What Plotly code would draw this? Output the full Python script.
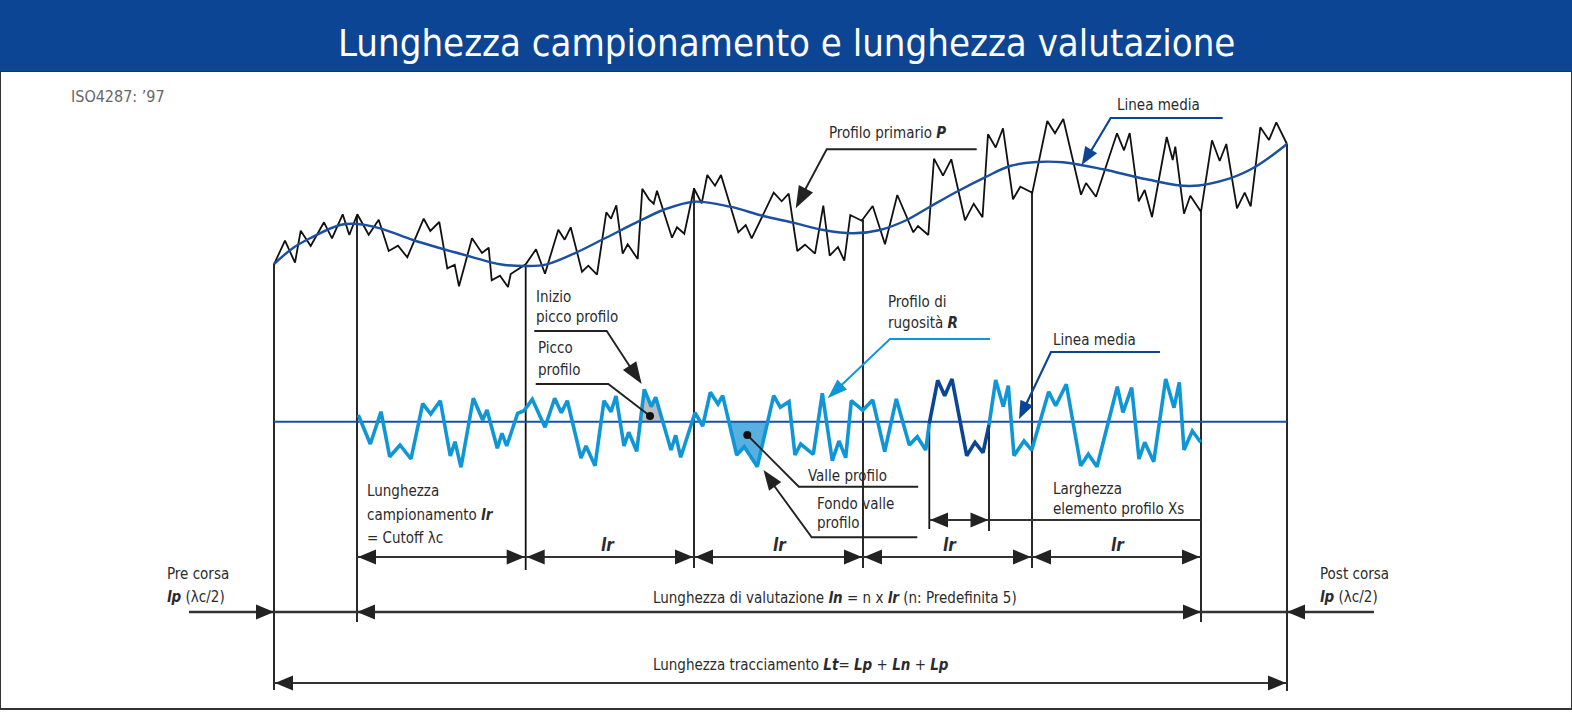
import math
import plotly.graph_objects as go

# profile readings, in picture units (x along the trace, y downwards)
primary_x = [274, 285, 295, 300.7, 310.7, 324, 332, 342.7, 349.3, 357.3, 368.7, 378.7, 388.7, 398, 407.3, 423.7, 430.3, 439.3,
             447.3, 454.7, 459, 472, 482, 488.7, 491.7, 500, 508, 510.7, 525.7, 536, 545, 558.3, 564.7, 570.7, 582, 588.3, 597,
             606.3, 611, 616.3, 622.7, 627.7, 637.7, 642.3, 649, 653.7, 657, 672, 677, 684.3, 694, 701.7, 707.3, 715, 721,
             738.3, 745.7, 751.7, 773.7, 781.7, 788.7, 797.3, 805, 815, 823.3, 829.7, 838, 844.3, 850.3, 861.7, 872.7, 885,
             897.3, 913.3, 918, 928.3, 934, 943, 951.3, 965, 973.7, 982.5, 988, 995.7, 1003, 1013, 1020.3, 1032.3, 1047.3,
             1055, 1063.3, 1081, 1086, 1096, 1117, 1124, 1129.7, 1138.7, 1144.7, 1152, 1166.7, 1172.7, 1175.3, 1184, 1190.3,
             1201, 1212, 1219.7, 1226.3, 1237, 1244.7, 1250.7, 1260.3, 1269, 1276.3, 1287]
primary_y = [264.3, 240.7, 262.7, 230.7, 246, 222.3, 238.3, 214.3, 235, 214.3, 234.7, 219.7, 251, 245.7, 257.3, 218.7, 231, 222,
             268.3, 264.7, 286.3, 238.3, 253, 247.7, 280.3, 275.7, 287, 274, 264.3, 249.3, 273.7, 229.7, 239.7, 227.3, 271.7,
             265.7, 274.7, 212.3, 218.7, 205.3, 253.7, 244.3, 259, 188.7, 199.3, 203.7, 190.7, 237.7, 227.3, 233.7, 188.5,
             203.3, 175, 185.7, 175, 232.3, 225, 238.3, 192.7, 201.3, 193.7, 251, 244.7, 253.7, 205.7, 255.7, 247, 260.7, 215,
             220.7, 206, 244.3, 195, 232.3, 226, 235, 158.7, 175.7, 159.3, 220.3, 203.7, 217.2, 134.3, 147.5, 128.3, 199.3,
             186.7, 192.7, 121, 133.3, 119, 194.7, 183, 196.7, 133.3, 150.3, 133, 201.3, 190, 217, 137, 160, 146.7, 213.7,
             195.7, 211.7, 140.3, 161, 144, 208.3, 192.7, 206.3, 127.3, 140, 122.3, 144]

mean_x = [274, 293, 310, 340, 357.3, 380, 413, 443, 473, 500, 526.7, 546.7, 576.7, 603, 640, 663.3, 694, 730, 763.3, 793.3,
          823.3, 853.3, 880, 906.7, 930, 956.7, 985, 1010, 1036.7, 1063, 1103, 1146.7, 1190, 1230, 1256.7, 1287]
mean_y = [264, 248, 238.3, 225, 224, 228.3, 240, 249, 257.3, 264.3, 266, 264.3, 252.3, 239.3, 220.7, 210, 201.7, 206.7, 216,
          222.7, 230, 233.3, 230, 220, 206.7, 191.7, 177.3, 166, 162, 162.3, 169.3, 179.3, 186, 178.3, 166, 144]

rough_a_x = [358.3, 370.3, 381, 389.7, 400, 411, 422.7, 430.7, 440.3, 450.3, 455, 461, 473.3, 482.7, 487, 497.3, 502, 506.7,
             517.7, 524, 532.3, 545, 554.7, 561.3, 567.3, 581, 586, 595, 604, 611, 616, 624, 628.7, 636.7, 644.3, 651.3,
             655.7, 671, 675.7, 680.7, 695, 702.7, 710.3, 718, 722.7, 736.7, 744.3, 757.3, 773.7, 780.3, 789, 795, 800.7,
             813.3, 822.3, 832.3, 839, 845.7, 851.3, 862.7, 872.7, 884.7, 896.3, 909.3, 917.3, 925.7, 929.3]
rough_a_y = [415, 444, 411.7, 456.7, 445, 459, 403.7, 414, 400.7, 456, 441.7, 467.3, 398.3, 420, 410, 448.3, 433.3, 446, 413.3,
             410.7, 399.3, 427.3, 398.3, 412.7, 400.7, 458, 446, 465.7, 400.7, 411.7, 396, 446, 432.3, 451.3, 389.3, 406.7,
             397.3, 450, 435.3, 457.3, 412.7, 426, 392.3, 404, 395.7, 455, 446.7, 466.7, 395.7, 407.3, 401.7, 455, 444, 454.3,
             393.3, 460.7, 441, 457.7, 400.7, 410.3, 400, 451.7, 399, 445, 436.7, 450, 423.3]
rough_dark_x = [929.3, 937.7, 944.7, 952, 966.7, 975, 983, 989]
rough_dark_y = [423.3, 380.3, 395.7, 379, 455.7, 442.3, 452.7, 425]
rough_b_x = [989, 995.7, 1003.3, 1008.3, 1014, 1024, 1031.7, 1048.7, 1055.7, 1066.3, 1080.7, 1088.3, 1097, 1117.3, 1123,
             1131.7, 1139, 1144.7, 1153.7, 1165.7, 1174, 1179.3, 1184, 1192.3, 1200.7]
rough_b_y = [425, 380, 406.7, 385.7, 455.7, 441, 450, 391.7, 405.7, 384.3, 465.7, 454.3, 466.7, 386.7, 412.3, 387.7, 459,
             442.3, 461.7, 379, 407.7, 382.3, 450, 431, 442.3]

peak_x = [640, 644.3, 651.3, 655.7, 663]
peak_y = [421.8, 389.3, 406.7, 397.3, 421.8]
valley_x = [729, 736.7, 744.3, 757.3, 766]
valley_y = [421.8, 455, 446.7, 466.7, 421.8]

# cutoff boundaries and where their ticks stop
tick_x = [274, 357, 525.7, 694, 863, 1032, 1201, 1287, 929.3, 989]
tick_top = [264, 215, 265, 188, 220, 192, 211, 144, 423, 425]
tick_bottom = [690, 622, 570, 568, 568, 568, 622, 691, 529, 531]

lr_edges = [357, 525.7, 694, 863, 1032, 1201]
lr_label_x = [608, 779.5, 950, 1118]

BLUE = "#0d4595"
MEAN = "#1b4f9f"
LIGHT = "#0f96d6"
INK = "#222222"
FONT = "DejaVu Sans Condensed, Roboto, sans-serif"

fig = go.Figure()


def line(xs, ys, color=INK, width=1.9, shape="linear"):
    fig.add_trace(go.Scatter(x=xs, y=ys, mode="lines", hoverinfo="skip",
                             line=dict(color=color, width=width, shape=shape)))


def area(xs, ys, color):
    fig.add_trace(go.Scatter(x=xs, y=ys, mode="lines", fill="toself", fillcolor=color,
                             hoverinfo="skip", line=dict(color=color, width=0)))


def head(tipx, tipy, fromx, fromy, color=INK, length=18, half=7.5):
    d = math.hypot(fromx - tipx, fromy - tipy)
    ux, uy = (fromx - tipx) / d, (fromy - tipy) / d
    bx, by = tipx + ux * length, tipy + uy * length
    area([tipx, bx - uy * half, bx + uy * half, tipx],
         [tipy, by + ux * half, by - ux * half, tipy], color)


def text(x, y, s, size=15, color="#2b2b2b", anchor="left"):
    fig.add_annotation(x=x, y=y, text=s, showarrow=False, xanchor=anchor, yanchor="middle",
                       font=dict(family=FONT, size=size, color=color))


# title band and frame
fig.add_shape(type="rect", x0=0, x1=1572, y0=71, y1=709, line=dict(color="#333333", width=2), fillcolor="white", layer="below")
fig.add_shape(type="rect", x0=0, x1=1572, y0=0, y1=71, line=dict(width=0), fillcolor=BLUE, layer="below")
text(786, 43, "Lunghezza campionamento e lunghezza valutazione", size=38, color="white", anchor="center")
text(69, 96, "ISO4287: ’97", size=16, color="#666666")

# fills under the roughness profile
area(peak_x, peak_y, "#b9bcc0")
area(valley_x, valley_y, "#58b0e0")

# tick lines
for x, top, bottom in zip(tick_x, tick_top, tick_bottom):
    line([x, x], [top, bottom], color="#111111", width=1.8)

# profiles
line(primary_x, primary_y, color="#111111", width=1.8)
line(mean_x, mean_y, color=MEAN, width=2.4, shape="spline")
line([274, 1287], [421.8, 421.8], color=MEAN, width=2)
line(rough_a_x, rough_a_y, color=LIGHT, width=3.6)
line(rough_b_x, rough_b_y, color=LIGHT, width=3.6)
line(rough_dark_x, rough_dark_y, color=BLUE, width=3.6)

# dimension arrows
for left, right in zip(lr_edges[:-1], lr_edges[1:]):
    line([left, right], [557, 557], color="#333333", width=2.2)
    head(left + 1, 557, right, 557)
    head(right - 1, 557, left, 557)
for x in lr_label_x:
    text(x, 545, "<b><i>lr</i></b>", size=17, anchor="center")

line([189, 1374], [612, 612], color="#333333", width=2.4)
head(274, 612, 189, 612)
head(357, 612, 1201, 612)
head(1201, 612, 357, 612)
head(1287, 612, 1374, 612)

line([274, 1287], [683, 683], color="#333333", width=2.2)
head(275, 683, 1287, 683)
head(1286, 683, 274, 683)

line([929.3, 1201], [520, 520], color="#333333", width=2.2)
head(930, 520, 989, 520)
head(988.5, 520, 929, 520)

# leader lines with heads
line([976.7, 826.7, 798], [149.3, 149.3, 203], width=1.9)
head(795.7, 208.3, 826.7, 149.3, length=22, half=8)
line([1222.7, 1110.7, 1085], [118, 118, 161], color=BLUE, width=2.2)
head(1081.7, 165, 1110.7, 118, color=BLUE, length=18, half=7)
line([990, 890, 830], [339, 339, 396], color=LIGHT, width=1.9)
head(827.7, 398.3, 890, 339, color=LIGHT, length=20, half=7)
line([1160, 1051, 1021], [352, 352, 415], color=BLUE, width=2.2)
head(1019, 419, 1051, 352, color=BLUE, length=18, half=7)
line([534.3, 606.7, 638], [331, 331, 379], width=1.9)
head(641.7, 384, 606.7, 331, length=22, half=8)
line([535.7, 608.3, 650], [384, 384, 416], width=1.9)
line([747.3, 798.8, 918.2], [435, 486.7, 486.7], width=1.9)
line([767, 811.7, 917.3], [476, 537.3, 537.3], width=1.9)
head(763.5, 470, 811.7, 537.3, length=20, half=7.5)
fig.add_trace(go.Scatter(x=[650, 747.3], y=[416, 435], mode="markers", hoverinfo="skip",
                         marker=dict(color="#111111", size=8)))

# labels
text(827, 133, "Profilo primario <b><i>P</i></b>")
text(1115, 105, "Linea media")
text(533.5, 297, "Inizio")
text(533.5, 317, "picco profilo")
text(536, 348, "Picco")
text(536, 370, "profilo")
text(886, 302, "Profilo di")
text(886, 323, "rugosità <b><i>R</i></b>")
text(1051, 340, "Linea media")
text(806, 476, "Valle profilo")
text(815, 504, "Fondo valle")
text(815, 523, "profilo")
text(1051, 489, "Larghezza")
text(1051, 509, "elemento profilo Xs")
text(365, 491, "Lunghezza")
text(365, 515, "campionamento <b><i>lr</i></b>")
text(365, 538, "= Cutoff λc")
text(165, 574, "Pre corsa")
text(165, 597, "<b><i>lp</i></b> (λc/2)")
text(1317.6, 574, "Post corsa")
text(1317.6, 597, "<b><i>lp</i></b> (λc/2)")
text(650.7, 598, "Lunghezza di valutazione <b><i>ln</i></b> = n x <b><i>lr</i></b> (n: Predefinita 5)")
text(650.7, 665, "Lunghezza tracciamento <b><i>Lt</i></b>= <b><i>Lp</i></b> + <b><i>Ln</i></b> + <b><i>Lp</i></b>")

fig.update_layout(width=1572, height=712, margin=dict(l=0, r=0, t=0, b=0), showlegend=False,
                  paper_bgcolor="white", plot_bgcolor="white",
                  xaxis=dict(range=[0, 1572], visible=False, fixedrange=True),
                  yaxis=dict(range=[712, 0], visible=False, fixedrange=True))
fig.write_html("out.html", include_plotlyjs=True, config=dict(displayModeBar=False),
               post_script="document.body.style.margin='0';")
